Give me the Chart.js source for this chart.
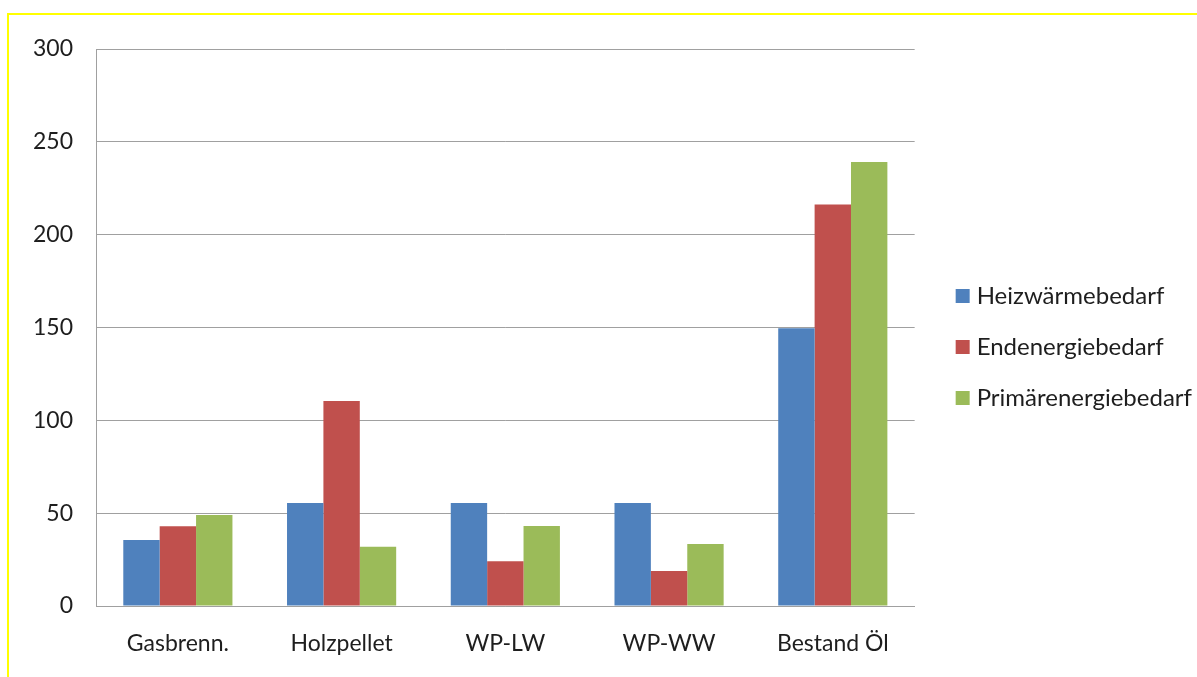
<!DOCTYPE html>
<html>
<head>
<meta charset="utf-8">
<script src="https://cdn.jsdelivr.net/npm/chart.js@4/dist/chart.umd.min.js"></script>
<style>
  html, body { margin: 0; padding: 0; background: #fff; }
  #wrap { position: relative; width: 1197px; height: 677px; overflow: hidden; }
  #frame { position: absolute; left: 7px; top: 13px; right: -10px; bottom: -10px;
           border-top: 2px solid #ffff00; border-left: 2px solid #ffff00; }
  canvas { position: absolute; left: 0; top: 0; }
</style>
</head>
<body>
<div id="wrap">
  <div id="frame"></div>
  <canvas id="c" width="1197" height="677"></canvas>
</div>
<script>
// Heizungsvarianten im Vergleich (kWh/m²a)
const categories = ['Gasbrenn.', 'Holzpellet', 'WP-LW', 'WP-WW', 'Bestand Öl'];
const heizwaerme = [35.5, 55.5, 55.5, 55.5, 149.6];
const endenergie = [42.9, 110.4, 24.1, 18.9, 216.3];
const primaerenergie = [49.0, 31.9, 43.1, 33.4, 239.1];
const seriesNames = ['Heizwärmebedarf', 'Endenergiebedarf', 'Primärenergiebedarf'];
const seriesColors = ['#4F81BD', '#C0504D', '#9BBB59'];
const yTicks = { min: 0, max: 300, step: 50 };

const FONT = 'Lato, "Open Sans", sans-serif';
const TEXT = '#1e1e1e';
const GRID = '#a0a0a0';

// empty spacer axes: keep room above the plot and between plot and legend
const spacer = (size) => ({
  type: 'linear',
  display: true,
  grid: { display: false, drawTicks: false },
  border: { display: false },
  ticks: { display: false },
  afterFit: s => { if (s.isHorizontal()) s.height = size; else s.width = size; }
});

new Chart(document.getElementById('c'), {
  type: 'bar',
  data: {
    labels: categories,
    datasets: [heizwaerme, endenergie, primaerenergie].map((vals, i) => ({
      label: seriesNames[i],
      data: vals,
      backgroundColor: seriesColors[i],
      borderWidth: 0,
      categoryPercentage: 3 / 4.5,
      barPercentage: 1.0
    }))
  },
  options: {
    responsive: false,
    animation: false,
    layout: { padding: { top: 17, right: -5, bottom: 0, left: 0 } },
    plugins: {
      tooltip: { enabled: false },
      legend: {
        position: 'right',
        align: 'center',
        maxWidth: 400,
        labels: {
          usePointStyle: true,
          pointStyle: 'rect',
          boxWidth: 4,
          boxHeight: 14,
          padding: 27,
          color: TEXT,
          font: { family: FONT, size: 24 }
        }
      }
    },
    scales: {
      x: {
        grid: { display: false, drawTicks: false },
        border: { display: true, color: GRID, width: 1 },
        ticks: { color: TEXT, font: { family: FONT, size: 23 }, padding: 24 },
        afterFit: s => { s.height = 71; }
      },
      y: {
        min: yTicks.min,
        max: yTicks.max,
        grid: { color: GRID, lineWidth: 1, drawTicks: false },
        border: { display: true, color: GRID, width: 1 },
        ticks: { stepSize: yTicks.step, color: TEXT, font: { family: FONT, size: 23 }, padding: 23 },
        afterFit: s => { s.width = 96; }
      },
      topGap: Object.assign(spacer(32), { position: 'top' }),
      rightGap: Object.assign(spacer(19), { position: 'right' })
    }
  }
});
</script>
</body>
</html>
